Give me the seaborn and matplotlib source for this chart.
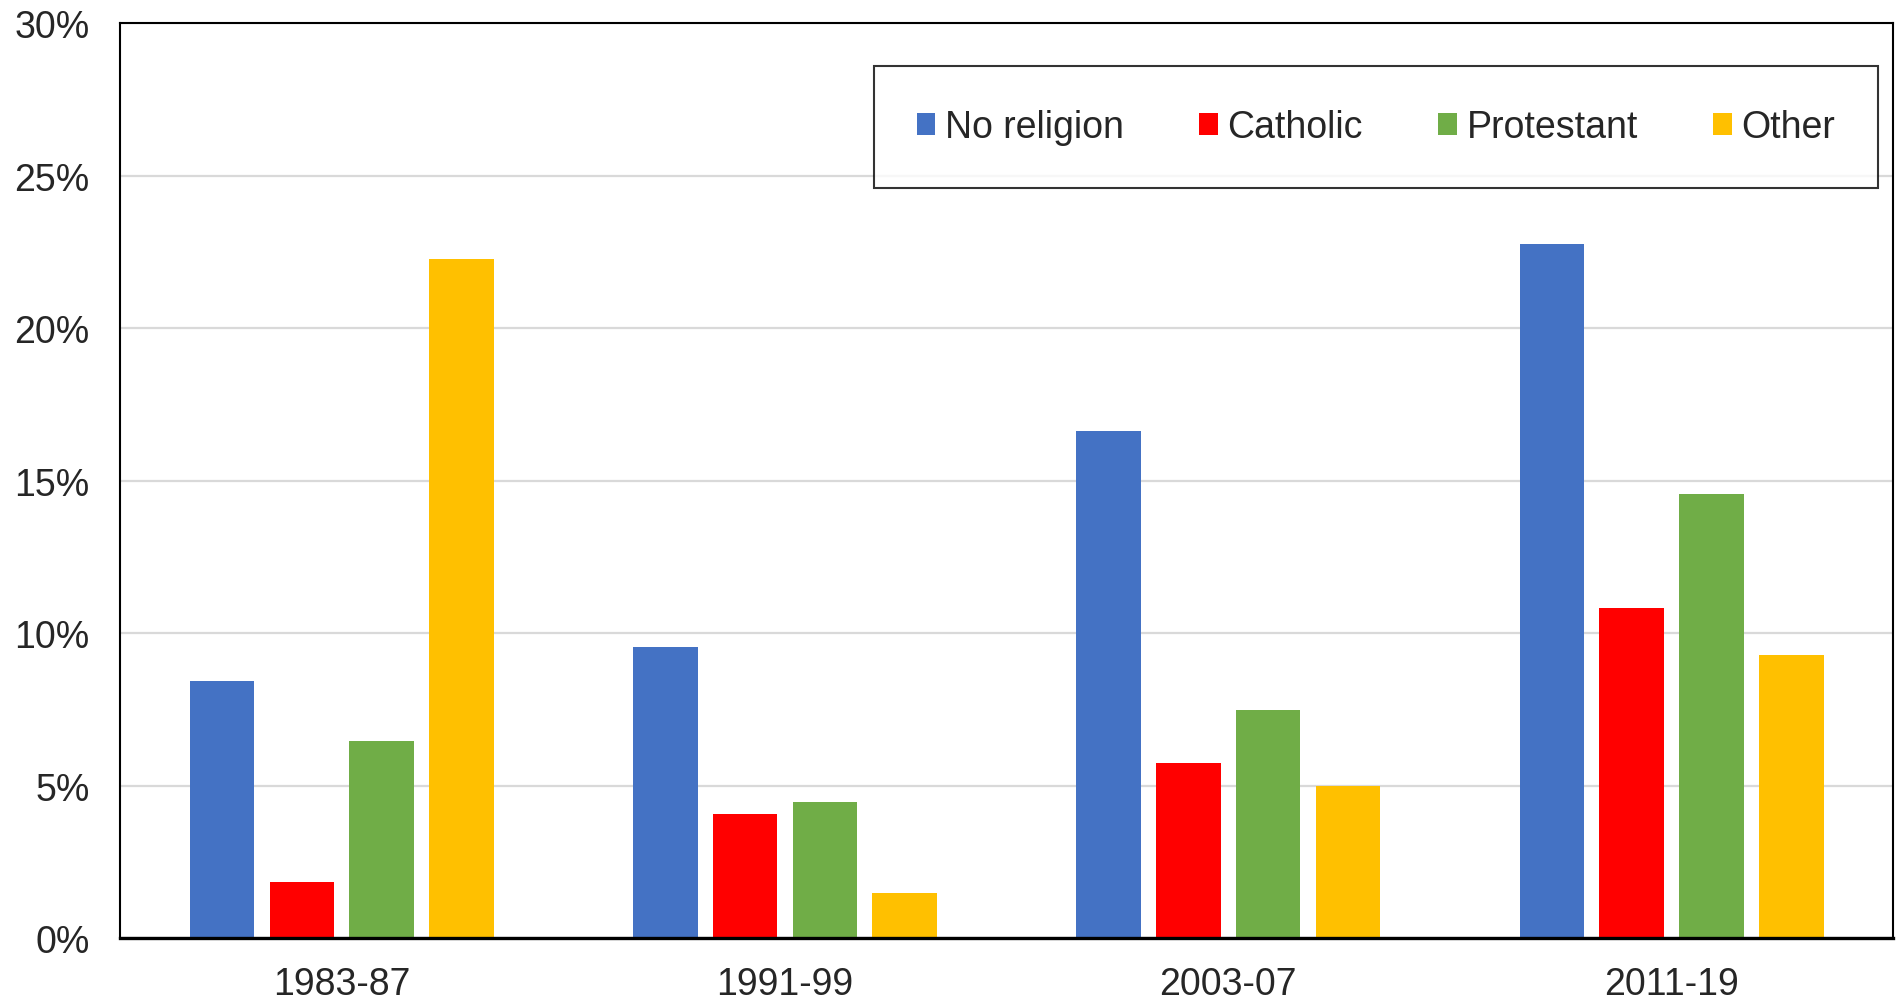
import pandas as pd
import matplotlib
matplotlib.use("Agg")
import matplotlib.pyplot as plt
import seaborn as sns

# Data (share of group, %)
periods = ["1983-87", "1991-99", "2003-07", "2011-19"]
religions = ["No religion", "Catholic", "Protestant", "Other"]
no_religion = [8.43, 9.54, 16.63, 22.76]
catholic = [1.85, 4.05, 5.75, 10.81]
protestant = [6.46, 4.46, 7.49, 14.57]
other = [22.27, 1.47, 5.0, 9.27]
colors = ["#4472C4", "#FF0000", "#70AD47", "#FFC000"]

data = pd.DataFrame({
    "period": periods * 4,
    "religion": [r for r in religions for _ in periods],
    "value": no_religion + catholic + protestant + other,
})

# Style
sns.set_theme(style="white")
plt.rcParams["font.family"] = ["Liberation Sans", "DejaVu Sans"]

fig = plt.figure(figsize=(18.97, 10.03), dpi=100)
ax = fig.add_axes([0.0633, 0.0638, 0.9347, 0.9122])

sns.barplot(data=data, x="period", y="value", hue="religion",
            hue_order=religions, palette=colors, saturation=1,
            width=0.72, gap=0.19, linewidth=0, ax=ax)

ax.set_ylim(0, 30)
ax.set_xlim(-0.5, 3.5)
ax.set_yticks(range(0, 31, 5))
ax.set_yticklabels([f"{v}%" for v in range(0, 31, 5)])
ax.set_xlabel("")
ax.set_ylabel("")
ax.yaxis.grid(True, color="#d9d9d9", linewidth=1.6)
ax.set_axisbelow(True)
ax.tick_params(axis="y", length=0, pad=22, labelsize=27)
ax.tick_params(axis="x", length=0, pad=20, labelsize=27)
for s in ["left", "top", "right"]:
    ax.spines[s].set_color("black")
    ax.spines[s].set_linewidth(1.5)
ax.spines["bottom"].set_color("black")
ax.spines["bottom"].set_linewidth(2.4)

handles, labels = ax.get_legend_handles_labels()
leg = ax.legend(handles, labels, ncol=4, loc="upper right",
                bbox_to_anchor=(0.9915, 0.953), borderaxespad=0,
                fontsize=27, frameon=True, fancybox=False,
                handlelength=0.5, handleheight=0.5, handletextpad=0.26,
                columnspacing=2.0, borderpad=1.15)
leg.get_frame().set_edgecolor("black")
leg.get_frame().set_linewidth(1.5)

plt.savefig("out.png", dpi=100)
